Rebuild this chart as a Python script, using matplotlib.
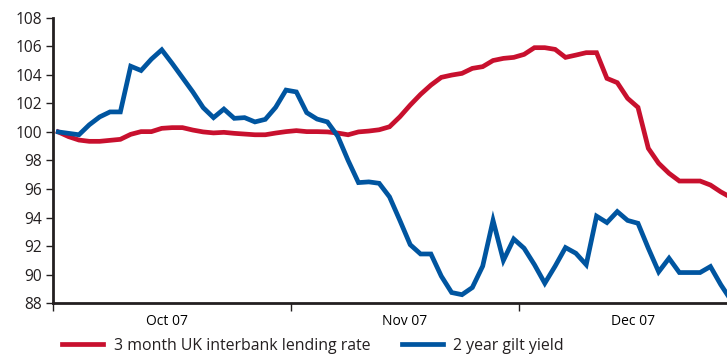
import numpy as np
import matplotlib
matplotlib.use("Agg")
import matplotlib.pyplot as plt

plt.rcParams['font.family'] = ['Open Sans', 'DejaVu Sans']

# daily index values (1 Oct 2007 = 100), one point per business day
interbank = [100.0, 99.67, 99.43, 99.34, 99.34, 99.41, 99.48, 99.83, 100.02, 100.02,
             100.25, 100.3, 100.3, 100.13, 100.0, 99.93, 99.97, 99.9, 99.85, 99.8,
             99.8, 99.92, 100.02, 100.09, 100.02, 100.02, 100.0, 99.92, 99.8, 100.0,
             100.06, 100.15, 100.36, 101.06, 101.88, 102.63, 103.28, 103.82, 103.98, 104.1,
             104.45, 104.57, 105.0, 105.15, 105.22, 105.43, 105.9, 105.9, 105.78, 105.22,
             105.38, 105.55, 105.55, 103.75, 103.45, 102.35, 101.72, 98.85, 97.8, 97.1,
             96.56, 96.56, 96.56, 96.28, 95.8, 95.4]
gilt = [100.0, 99.9, 99.8, 100.5, 101.05, 101.4, 101.4, 104.6, 104.3, 105.1,
        105.75, 104.8, 103.8, 102.8, 101.7, 101.0, 101.6, 100.95, 101.0, 100.7,
        100.88, 101.72, 102.93, 102.8, 101.35, 100.9, 100.7, 99.7, 98.0, 96.45,
        96.5, 96.4, 95.45, 93.8, 92.1, 91.45, 91.45, 89.9, 88.75, 88.6,
        89.1, 90.6, 93.8, 91.0, 92.5, 91.85, 90.7, 89.4, 90.6, 91.9,
        91.5, 90.7, 94.1, 93.65, 94.42, 93.8, 93.6, 91.85, 90.2, 91.15,
        90.15, 90.15, 90.15, 90.57, 89.3, 88.2]
month_labels = ['Oct 07', 'Nov 07', 'Dec 07']
month_bounds = [0, 23, 45]
month_centres = [11, 34, 56]

red = '#C8102E'
blue = '#0055A0'
ink = '#231F20'

fig = plt.figure(figsize=(7.27, 3.61), dpi=100)
ax = fig.add_axes([0.073, 0.16, 0.927, 0.791])

x = np.arange(len(gilt)) + 0.5
ax.plot(x, interbank, color=red, lw=3.4, solid_joinstyle='miter',
        label='3 month UK interbank lending rate')
ax.plot(x, gilt, color=blue, lw=3.4, solid_joinstyle='miter',
        label='2 year gilt yield')

ax.set_xlim(0, 65.1)
ax.set_ylim(88, 108)
ax.set_yticks(np.arange(88, 109, 2))

ax.set_xticks(month_bounds)
ax.set_xticklabels([])
ax.set_xticks(month_centres, minor=True)
ax.set_xticklabels(month_labels, minor=True)
ax.tick_params(axis='x', which='major', length=6, width=1, color=ink)
ax.tick_params(axis='x', which='minor', length=0, pad=8)
ax.tick_params(axis='y', length=5, width=1, color=ink, pad=3)
ax.tick_params(labelsize=11.2, labelcolor=ink)

for side in ['top', 'right']:
    ax.spines[side].set_visible(False)
for side in ['left', 'bottom']:
    ax.spines[side].set_color(ink)
    ax.spines[side].set_linewidth(2)

fig.legend(loc='lower left', bbox_to_anchor=(0.066, -0.02), ncol=2, frameon=False,
           fontsize=11.4, handlelength=2.6, handletextpad=0.65, columnspacing=2.0,
           labelcolor=ink)

fig.savefig('out.png', dpi=100)
